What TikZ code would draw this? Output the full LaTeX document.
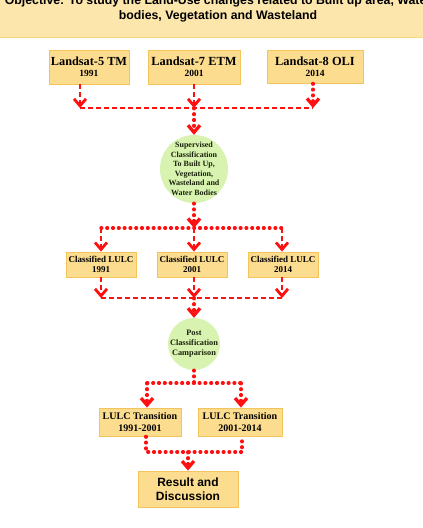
\documentclass[tikz,border=0pt]{standalone}
\usepackage{fontspec}
\setmainfont{Liberation Serif}
\newfontfamily\titlefont{Liberation Sans}
\usetikzlibrary{arrows.meta}
\definecolor{boxfill}{HTML}{FCDC8E}
\definecolor{boxedge}{HTML}{F4C45C}
\definecolor{titlefill}{HTML}{FDE6AC}
\definecolor{titleedge}{HTML}{F9D680}
\definecolor{circfill}{HTML}{D8F3B0}
\definecolor{arrred}{HTML}{FF1010}
\definecolor{circtxt}{HTML}{1A220C}
\begin{document}
\begin{tikzpicture}[x=1pt,y=-1pt,
  box/.style={draw=boxedge,fill=boxfill,line width=0.8pt,inner sep=0pt,align=center,text=black},
  circ/.style={circle,draw=none,fill=circfill,inner sep=0pt},
  circtext/.style={align=center,text=circtxt,inner sep=0pt},
  dashl/.style={draw=arrred,line width=2.8pt,dash pattern=on 5pt off 3pt},
  dotl/.style={draw=arrred,line width=3.3pt,line cap=round,dash pattern=on 0.8pt off 5pt},
  arr/.style={-{Straight Barb[length=7pt,width=12pt,line cap=butt,line join=miter]}}
]
\useasboundingbox (0,0) rectangle (423,528);
\clip (0,0) rectangle (423,528);

% title band
\fill[titlefill] (-2,-2) rectangle (425,37);
\draw[titleedge,line width=1pt] (-2,37) -- (425,37);
\node[anchor=base,inner sep=0pt,font=\titlefont\bfseries\fontsize{12.3}{14}\selectfont] (t1) at (218,4.7)
  {Objective: To study the Land-Use changes related to Built up area, Water};
\node[anchor=base,inner sep=0pt,font=\titlefont\bfseries\fontsize{12.3}{14}\selectfont] (t2) at (218,19.3)
  {bodies, Vegetation and Wasteland};

% Landsat boxes
\node[box,minimum width=80pt,minimum height=34pt,font=\bfseries] (l5) at (89,67)
  {\fontsize{12.3}{12}\selectfont Landsat-5 TM\\[-1pt]\fontsize{9.5}{11}\selectfont 1991};
\node[box,minimum width=92pt,minimum height=34pt,font=\bfseries] (l7) at (194,67)
  {\fontsize{12.4}{12}\selectfont Landsat-7 ETM\\[-1pt]\fontsize{9.5}{11}\selectfont 2001};
\node[box,minimum width=96pt,minimum height=33pt,font=\bfseries] (l8) at (315,66.5)
  {\fontsize{12.4}{12}\selectfont Landsat-8 OLI\\[-1pt]\fontsize{9.5}{11}\selectfont 2014};

\coordinate (j1a) at (80,108);
\coordinate (j1b) at (194,108);
\coordinate (j1c) at (313,108);

% circle 1
\node[circ,minimum size=68pt] (c1) at (194,169) {};
\node[circtext,font=\fontsize{8}{9.5}\bfseries\selectfont] (c1t) at (c1)
  {Supervised\\Classification\\To Built Up,\\Vegetation,\\Wasteland and\\Water Bodies};

\draw[dashl,arr] (l5.south -| j1a) -- (j1a);
\draw[dashl,arr] (l7.south -| j1b) -- (j1b);
\draw[dotl,arr] (l8.south -| j1c) -- (j1c);
\draw[dashl] (j1a) -- (j1c);
\draw[dotl,arr] (j1b) -- (c1.north);

% classified boxes
\node[box,minimum width=70pt,minimum height=25pt,font=\fontsize{9}{10.5}\bfseries\selectfont] (k1) at (101,264.5)
  {Classified LULC\\1991};
\node[box,minimum width=70pt,minimum height=25pt,font=\fontsize{9}{10.5}\bfseries\selectfont] (k2) at (192,264.5)
  {Classified LULC\\2001};
\node[box,minimum width=70pt,minimum height=25pt,font=\fontsize{9}{10.5}\bfseries\selectfont] (k3) at (283,264.5)
  {Classified LULC\\2014};

\coordinate (j2a) at (101,228);
\coordinate (j2b) at (194,228);
\coordinate (j2c) at (282,228);
\draw[dotl,arr] (c1.south) -- (j2b);
\draw[dotl] (j2a) -- (j2c);
\draw[dashl,arr] (j2a) -- (k1.north -| j2a);
\draw[dashl,arr] (j2b) -- (k2.north -| j2b);
\draw[dashl,arr] (j2c) -- (k3.north -| j2c);

% circle 2
\node[circ,minimum size=52pt] (c2) at (194,344) {};
\node[circtext,font=\fontsize{8.3}{10}\bfseries\selectfont] (c2t) at (c2)
  {Post\\Classification\\Camparison};

\coordinate (j3a) at (101,298);
\coordinate (j3b) at (194,298);
\coordinate (j3c) at (282,298);
\draw[dashl,arr] (k1.south -| j3a) -- (j3a);
\draw[dashl,arr] (k2.south -| j3b) -- (j3b);
\draw[dashl,arr] (k3.south -| j3c) -- (j3c);
\draw[dashl] (j3a) -- (j3c);
\draw[dotl,arr] (j3b) -- (c2.north);

% transition boxes
\node[box,minimum width=82pt,minimum height=28pt,font=\fontsize{10}{11.5}\bfseries\selectfont] (tr1) at (140,422)
  {LULC Transition\\1991-2001};
\node[box,minimum width=84pt,minimum height=28pt,font=\fontsize{10}{11.5}\bfseries\selectfont] (tr2) at (240,422)
  {LULC Transition\\2001-2014};

\coordinate (j4a) at (147,383);
\coordinate (j4b) at (194,383);
\coordinate (j4c) at (241,383);
\draw[dotl] (c2.south) -- (j4b);
\draw[dotl] (j4a) -- (j4c);
\draw[dotl,arr] (j4a) -- (tr1.north -| j4a);
\draw[dotl,arr] (j4c) -- (tr2.north -| j4c);

% result box
\node[box,minimum width=100pt,minimum height=36pt,font=\titlefont\bfseries\fontsize{12}{13.5}\selectfont] (res) at (188,489)
  {Result and\\Discussion};

\coordinate (j5a) at (146,452);
\coordinate (j5b) at (188,452);
\coordinate (j5c) at (242,452);
\draw[dotl] (tr1.south -| j5a) -- (j5a) -- (j5c) -- (tr2.south -| j5c);
\draw[dotl,arr] (j5b) -- (res.north);
\end{tikzpicture}
\end{document}
